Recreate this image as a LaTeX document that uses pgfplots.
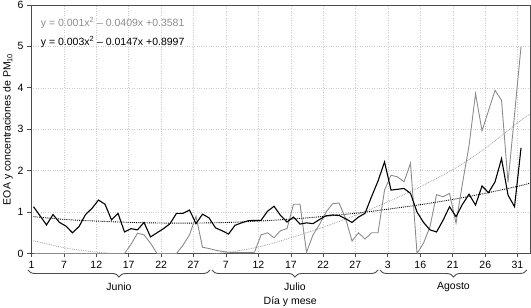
\documentclass[border=0pt]{standalone}
\usepackage{fontspec}
\setmainfont{Liberation Sans}
\usepackage{pgfplots}
\pgfplotsset{compat=1.18}
\usetikzlibrary{calc,decorations.pathreplacing}
\definecolor{serg}{gray}{0.55}
\definecolor{trg}{gray}{0.62}
\definecolor{gridc}{gray}{0.80}
\definecolor{axc}{gray}{0.3}

\pgfplotstableread{
i black gray
0 1.13 0
1 0.91 0
2 0.69 0
3 0.94 0
4 0.75 0
5 0.66 0
6 0.50 0
7 0.65 0
8 0.94 0
9 1.09 0
10 1.29 0
11 1.19 0
12 0.81 0
13 0.97 0
14 0.52 0
15 0.60 0.22
16 0.57 0.49
17 0.75 0.45
18 0.40 0.25
19 0.50 0
20 0.60 0
21 0.72 0
22 0.97 0
23 0.97 0.20
24 1.05 0.45
25 0.72 0.90
26 0.95 0.15
27 0.86 0.12
28 0.62 0.08
29 0.55 0.05
30 0.47 0.03
31 0.68 0.02
32 0.74 0.02
33 0.79 0.02
34 0.80 0.03
35 0.80 0.45
36 1.02 0.50
37 1.14 0.38
38 0.92 0.55
39 0.76 0.60
40 0.88 1.19
41 0.71 1.19
42 0.74 0.03
43 0.72 0.45
44 0.82 0.70
45 0.91 1.00
46 0.93 1.20
47 0.92 1.22
48 0.84 0.85
49 0.75 0.30
50 0.88 0.50
51 0.97 0.35
52 1.37 0.50
53 1.75 0.50
54 2.21 1.53
55 1.53 1.89
56 1.55 1.85
57 1.57 1.73
58 1.45 2.18
59 1.00 0.00
60 0.75 0.25
61 0.57 0.65
62 0.52 1.42
63 0.80 1.37
64 1.13 1.45
65 0.89 0.73
66 1.19 1.70
67 1.43 2.60
68 1.17 3.86
69 1.63 2.96
70 1.47 3.45
71 1.73 3.94
72 2.29 3.70
73 1.41 1.72
74 1.13 3.35
75 2.55 5.00
}\datatable

\pgfplotstableread{
i black gray
0 0.89 0.31
5 0.82 0.13
10 0.78 0.03
15 0.75 -0.04
20 0.735 -0.06
25 0.735 -0.04
30 0.75 0.03
35 0.785 0.17
40 0.835 0.40
45 0.90 0.66
50 0.98 0.95
55 1.08 1.28
60 1.19 1.65
65 1.32 2.07
70 1.47 2.60
75 1.64 3.22
76.38 1.70 3.36
}\trendtable

\begin{document}
\begin{tikzpicture}[font=\fontsize{10.5}{12}\selectfont]
\begin{axis}[
  width=499pt, height=248.5pt, scale only axis,
  xmin=-0.385, xmax=76.38, ymin=0, ymax=6,
  xtick={-0.3,4.68,9.66,14.65,19.63,24.6,29.6,34.6,39.6,44.55,49.5,54.5,59.5,64.5,69.5,74.45},
  xticklabels={1,7,12,17,22,27,7,12,17,22,27,3,16,21,26,31},
  ytick={0,1,2,3,4,5,6},
  xtick pos=left, ytick pos=left,
  tick align=outside, major tick length=4pt,
  tick style={axc, line width=0.7pt},
  axis line style={axc, line width=0.9pt},
  grid=major, grid style={dotted, gridc, line width=0.5pt},
  ticklabel style={font=\fontsize{10.5}{12}\selectfont},
  /pgf/number format/assume math mode=true,
  ylabel={EOA y concentraciones de PM\textsubscript{10}},
  ylabel style={at={(axis description cs:-0.0461,0.5)}, anchor=center, font=\fontsize{10.5}{12}\selectfont},
]
\addplot[trg, densely dotted, line width=0.8pt, smooth] table[x=i, y=gray] {\trendtable};
\addplot[black, densely dotted, line width=0.9pt, smooth] table[x=i, y=black] {\trendtable};
\addplot[serg, line width=0.9pt] table[x=i, y=gray] {\datatable};
\addplot[black, line width=1.1pt] table[x=i, y=black] {\datatable};

\node[anchor=west, text=serg, inner sep=0pt] at (axis description cs:0.0194,0.929) {y = 0.001x\textsuperscript{2} – 0.0409x +0.3581};
\node[anchor=west, text=black, inner sep=0pt] at (axis description cs:0.0194,0.852) {y = 0.003x\textsuperscript{2} – 0.0147x +0.8997};

\coordinate (SW) at (rel axis cs:0,0);
\coordinate (NE) at (rel axis cs:1,1);
\coordinate (J0) at (axis cs:-0.85,0);
\coordinate (J1) at (axis cs:27.15,0);
\coordinate (L0) at (axis cs:27.46,0);
\coordinate (L1) at (axis cs:53.0,0);
\coordinate (A0) at (axis cs:53.3,0);
\coordinate (A1) at (axis cs:75.9,0);
\coordinate (XL) at (axis cs:39.5,0);
\end{axis}
\begin{scope}[line width=0.9pt, axc]
\draw[decorate, decoration={brace, mirror, amplitude=7pt}] ([yshift=-16.5pt]J0) -- ([yshift=-16.5pt]J1);
\draw[decorate, decoration={brace, mirror, amplitude=7pt}] ([yshift=-16.5pt]L0) -- ([yshift=-16.5pt]L1);
\draw[decorate, decoration={brace, mirror, amplitude=7pt}] ([yshift=-16.5pt]A0) -- ([yshift=-16.5pt]A1);
\end{scope}
\node at ($($(J0)!0.5!(J1)$)+(0,-33.5pt)$) {Junio};
\node at ($($(L0)!0.5!(L1)$)+(0,-33.5pt)$) {Julio};
\node at ($($(A0)!0.5!(A1)$)+(0,-33.5pt)$) {Agosto};
\node at ($(XL)+(0,-48.5pt)$) {Día y mese};
\pgfresetboundingbox
\path ($(SW)+(-31pt,-54.5pt)$) rectangle ($(NE)+(1pt,5pt)$);
\end{tikzpicture}
\end{document}
